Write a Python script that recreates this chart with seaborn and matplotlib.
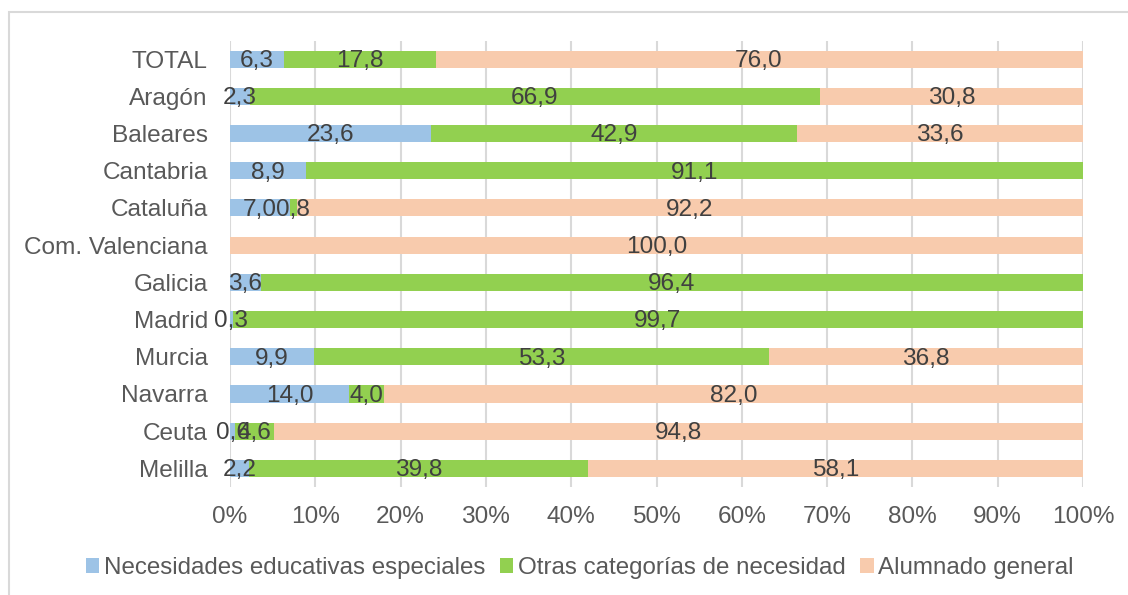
import matplotlib
matplotlib.use("Agg")
import matplotlib.pyplot as plt
from matplotlib.patches import Rectangle, Patch
import numpy as np
import pandas as pd
import seaborn as sns

regions = ["TOTAL", "Aragón", "Baleares", "Cantabria", "Cataluña", "Com. Valenciana",
           "Galicia", "Madrid", "Murcia", "Navarra", "Ceuta", "Melilla"]
nee = [6.3, 2.3, 23.6, 8.9, 7.0, 0.0, 3.6, 0.3, 9.9, 14.0, 0.6, 2.2]
otras = [17.8, 66.9, 42.9, 91.1, 0.8, 0.0, 96.4, 99.7, 53.3, 4.0, 4.6, 39.8]
general = [76.0, 30.8, 33.6, 0.0, 92.2, 100.0, 0.0, 0.0, 36.8, 82.0, 94.8, 58.1]
series_names = ["Necesidades educativas especiales", "Otras categorías de necesidad", "Alumnado general"]
colors = ["#9DC3E6", "#92D050", "#F8CBAD"]
xticks = [0, 10, 20, 30, 40, 50, 60, 70, 80, 90, 100]

FS = 17.6

sns.set_theme(style="white")
plt.rcParams["font.family"] = ["Liberation Sans", "DejaVu Sans"]

series = [np.array(nee), np.array(otras), np.array(general)]
cum = np.cumsum(series, axis=0)
cum[-1] = np.minimum(cum[-1], 100.0)

fig = plt.figure(figsize=(11.28, 5.95), dpi=100)
ax = fig.add_axes([230 / 1128, 1 - 487 / 595, (1083 - 230) / 1128, (487 - 40.5) / 595])

df = pd.DataFrame({"region": regions})
# draw cumulative totals back to front so each series shows as a stacked segment
for i in reversed(range(3)):
    df["v"] = cum[i]
    sns.barplot(data=df, x="v", y="region", orient="h", color=colors[i],
                saturation=1, width=0.46, ax=ax, linewidth=0, zorder=2)

# segment value labels (zero-width segments are left unlabeled)
for i in range(3):
    lefts = cum[i] - series[i]
    for j, val in enumerate(series[i]):
        if val <= 0:
            continue
        ax.text(lefts[j] + val / 2, j + 0.05, f"{val:.1f}".replace(".", ","),
                ha="center", va="center", fontsize=FS, color="#404040", zorder=5)

ax.set_xlim(0, 100)
ax.set_ylim(len(regions) - 0.5, -0.5)
ax.set_xticks(xticks)
ax.set_xticklabels([f"{t}%" for t in xticks])
ax.set_xlabel("")
ax.set_ylabel("")
for s in ax.spines.values():
    s.set_visible(False)
ax.xaxis.grid(True, color="#D9D9D9", linewidth=1.5, zorder=0)
ax.yaxis.grid(False)
ax.set_axisbelow(True)
ax.tick_params(axis="x", length=0, pad=14, labelsize=FS, labelcolor="#595959")
ax.tick_params(axis="y", length=0, pad=16, labelsize=FS, labelcolor="#595959")

handles = [Patch(facecolor=c, edgecolor="none", label=n) for c, n in zip(colors, series_names)]
fig.legend(handles=handles, loc="center", bbox_to_anchor=(580 / 1128, 1 - 568 / 595),
           ncol=3, frameon=False, fontsize=17.4, labelcolor="#595959",
           handlelength=0.55, handleheight=0.55, handletextpad=0.2, columnspacing=0.6)

# chart-area border
fig.add_artist(Rectangle((9 / 1128, -0.1), 1.2, 1 - 12 / 595 + 0.1,
                         transform=fig.transFigure, fill=False,
                         edgecolor="#D9D9D9", linewidth=1.5))

fig.savefig("out.png", dpi=100)
